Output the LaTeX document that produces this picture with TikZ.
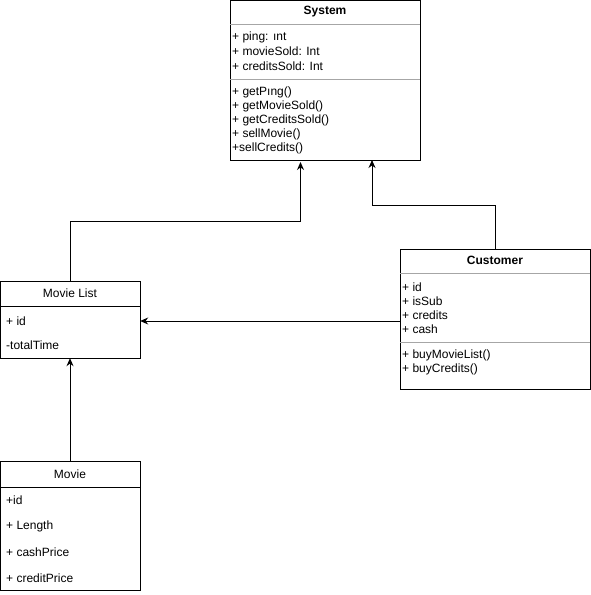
\documentclass[tikz,border=0pt]{standalone}
\usepackage{fontspec}
\setmainfont{Liberation Sans}
\usetikzlibrary{positioning, fit, calc, arrows.meta}

\begin{document}
\begin{tikzpicture}[x=1pt, y=-1pt,
    font=\fontsize{12}{14}\selectfont,
    box/.style={draw, line width=1pt, fill=white},
    attr/.style={anchor=west, inner sep=0pt},
    sep/.style={line width=1pt, gray!70},
    arr/.style={line width=1pt, -{Stealth[length=8pt, width=7pt]}}]
                \useasboundingbox (0,0) rectangle (591,595);

                % klase
                \draw[box] (230,0.5) rectangle (420,160);
                \draw[box] (400,249) rectangle (590,389);
                \draw[box] (0.5,281) rectangle (140,358);
                \draw[box] (0.5,461) rectangle (140,590.5);

                \node (system) at (325,80) [minimum width=190pt, minimum height=160pt] {};
                \node (customer) at (495,319) [minimum width=190pt, minimum height=140pt] {};
                \node (movielist) at (70,319.5) [minimum width=140pt, minimum height=77pt] {};
                \node (movie) at (70,526) [minimum width=140pt, minimum height=130pt] {};

                % System
                \node[font=\fontsize{12}{14}\selectfont\bfseries] (systitle) at (325,12) {System};
                \draw[sep] (230,24) -- (420,24);
                \node[attr] (ping) at (232,37) {+ ping: ınt};
                \node[attr] (moviesold) at (232,51.5) {+ movieSold: Int};
                \node[attr] (creditssold) at (232,66) {+ creditsSold: Int};
                \draw[sep] (230,79) -- (420,79);
                \node[attr] (getping) at (232,92.5) {+ getPıng()};
                \node[attr] (getmoviesold) at (232,106.5) {+ getMovieSold()};
                \node[attr] (getcreditssold) at (232,120.5) {+ getCreditsSold()};
                \node[attr] (sellmovie) at (232,134.5) {+ sellMovie()};
                \node[attr] (sellcredits) at (232,148.5) {+sellCredits()};

                % Customer
                \node[font=\fontsize{12}{14}\selectfont\bfseries] (custtitle) at (495,260.5) {Customer};
                \draw[sep] (400,273) -- (590,273);
                \node[attr] (custid) at (402,287) {+ id};
                \node[attr] (issub) at (402,301) {+ isSub};
                \node[attr] (credits) at (402,315) {+ credits};
                \node[attr] (cash) at (402,329) {+ cash};
                \draw[sep] (400,342) -- (590,342);
                \node[attr] (buylist) at (402,355.5) {+ buyMovieList()};
                \node[attr] (buycredits) at (402,369.5) {+ buyCredits()};

                % Movie List
                \node (listtitle) at (70,293.5) {Movie List};
                \draw[line width=1pt] (0,306) -- (140,306);
                \node[attr] (listid) at (6,321) {+ id};
                \node[attr] (totaltime) at (6,345.5) {-totalTime};

                % Movie
                \node (movietitle) at (70,474) {Movie};
                \draw[line width=1pt] (0,487) -- (140,487);
                \node[attr] (movieid) at (6,500.5) {+id};
                \node[attr] (length) at (6,526.5) {+ Length};
                \node[attr] (cashprice) at (6,552.5) {+ cashPrice};
                \node[attr] (creditprice) at (6,578.5) {+ creditPrice};

                % veze
                \coordinate (sysL) at (300.5,162);
                \coordinate (sysR) at (372,160);
                \draw[arr] (movielist.north) -- ++(0,-59) -| (sysL);
                \draw[arr] (customer.north) -- ++(0,-43) -| (sysR);
                \draw[arr] (customer.west |- listid) -- (movielist.east |- listid);
                \draw[arr] (movie.north) -- (movielist.south);
            \end{tikzpicture}
\end{document}
